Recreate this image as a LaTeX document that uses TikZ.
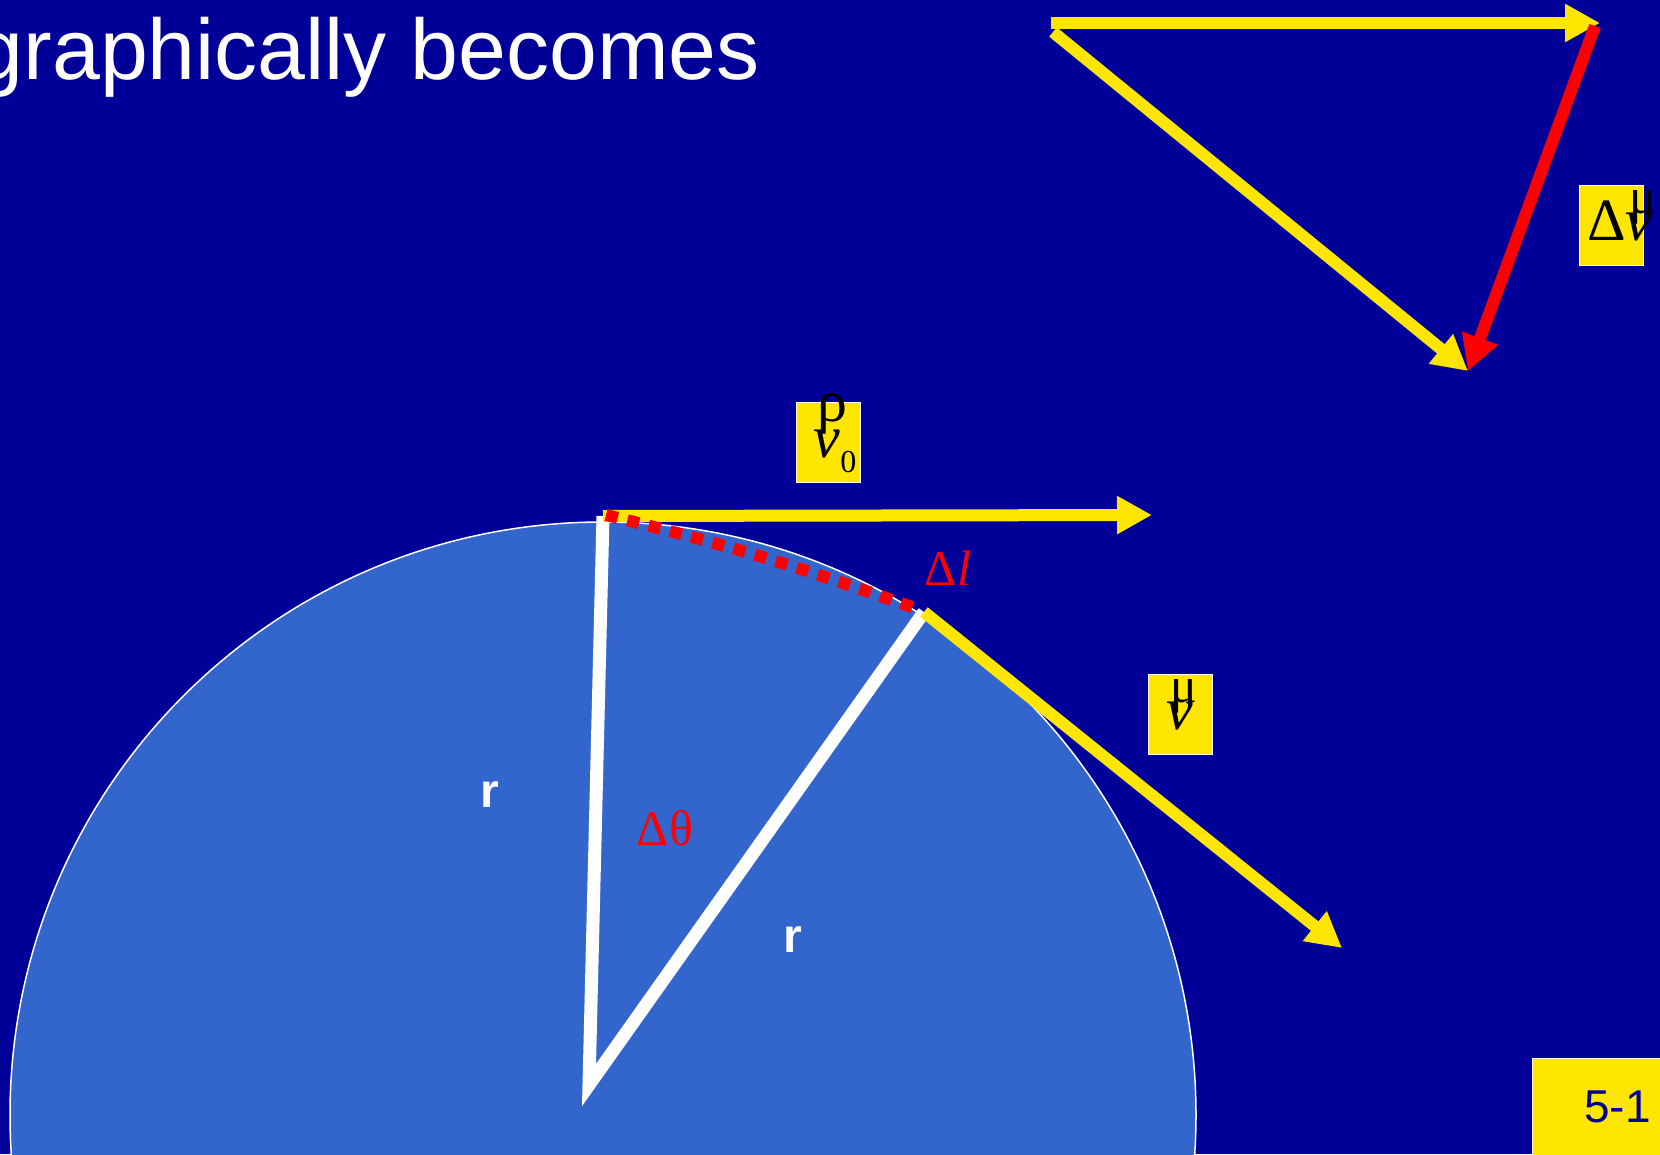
\documentclass[tikz,border=0pt]{standalone}
\usepackage{fontspec}
\usepackage{graphicx}
\setmainfont{Liberation Serif}
\newfontfamily\sansface{Liberation Sans}
\usetikzlibrary{arrows.meta}
\definecolor{slideblue}{HTML}{000099}
\definecolor{diskblue}{HTML}{3366CC}
\definecolor{vyellow}{HTML}{FFE600}
\definecolor{dvred}{HTML}{FF0000}

% glyphs the slide prints above v
\newcommand{\rhotop}{\raisebox{0.6em}{ρ}}
\newcommand{\mutop}{\raisebox{0.45em}{\fontsize{50}{50}\selectfont μ}}
\newcommand{\vecsym}[2]{\makebox[0pt][l]{\kern0.06em#1}\textit{v}#2}

\begin{document}
\begin{tikzpicture}[
  x=1pt, y=-1pt,
  vec/.style={line width=12pt, draw=vyellow,
              -{Triangle[length=35pt,width=36pt]}},
  dvec/.style={vec, draw=dvred},
  spoke/.style={line width=13pt, draw=white, line join=miter},
  arcmark/.style={line width=12pt, draw=dvred, dash pattern=on 12pt off 10pt},
  disk/.style={fill=diskblue, draw=white, line width=1.5pt},
  tag/.style={fill=vyellow, draw=white, line width=1pt, inner sep=0pt,
              minimum width=64pt, text height=55pt, text depth=25pt,
              font=\fontsize{60}{60}\selectfont\color{black}},
  rlabel/.style={font=\sansface\bfseries\fontsize{48}{48}\selectfont\color{white},
                 inner sep=0pt},
  redlabel/.style={font=\fontsize{50}{50}\selectfont\color{dvred}, inner sep=0pt},
  heading/.style={font=\sansface\fontsize{86}{86}\selectfont\color{white},
                  inner sep=0pt},
]
\useasboundingbox (0,0) rectangle (1660,1154);
\clip (0,0) rectangle (1660,1154);
\fill[slideblue] (0,0) rectangle (1660,1154);

% ---- Title ------------------------------------------------------------------
\node[heading, anchor=base east] (title) at (760,79) {graphically becomes};

% ---- Circle and radii -------------------------------------------------------
\draw[disk] (603,1115) circle[radius=593pt];
\coordinate (centre) at (589,1085);
\coordinate (top) at (603,516);
\coordinate (rim) at (924,612);
\draw[spoke] (top) -- (centre) -- (rim);

% ---- Velocity vectors on the circle ----------------------------------------
\coordinate (v0tip) at (1152,515);
\coordinate (vtip) at (1342,948);
\draw[vec] (top) -- (v0tip);
\draw[vec] (rim) -- (vtip);
\draw[arcmark] (606,515) coordinate (arcA) to[bend left=3] (917,609) coordinate (arcB);

% ---- Vector triangle --------------------------------------------------------
\coordinate (tA) at (1051,23);
\coordinate (tB) at (1600,23);
\coordinate (tC) at (1468,371);
\draw[vec] (tA) -- (tB);
\draw[vec] (1053,32) coordinate (tA2) -- (tC);
\draw[dvec] (1595,26) coordinate (tB2) -- (tC);

% ---- Labels -----------------------------------------------------------------
\node[tag] (v0lab) at (828,442) {\hspace*{14pt}\vecsym{\rhotop}{\raisebox{-15pt}{\fontsize{32}{32}\selectfont 0}}};
\node[tag] (vlab) at (1180,714) {\vecsym{\mutop}{}};
\node[tag] (dvlab) at (1611,225) {\makebox[64pt][l]{\hspace*{8pt}Δ\vecsym{\mutop}{}}};
\node[rlabel] (rleft) at (490,795) {r};
\node[rlabel] (rright) at (793,940) {r};
\node[redlabel] (dtheta) at (665,828) {Δθ};
\node[redlabel] (dl) at (948,568) {Δ\textit{l}};

% ---- Slide number -----------------------------------------------------------
\node[fill=vyellow, draw=white, line width=1pt, anchor=north west,
      minimum width=160pt, minimum height=120pt] (slidebox) at (1532,1058) {};
\node[font=\sansface\fontsize{46}{46}\selectfont\color{slideblue}, inner sep=0pt,
      anchor=base west] (slidenum) at (1584,1122) {5-1};

\end{tikzpicture}
\end{document}
